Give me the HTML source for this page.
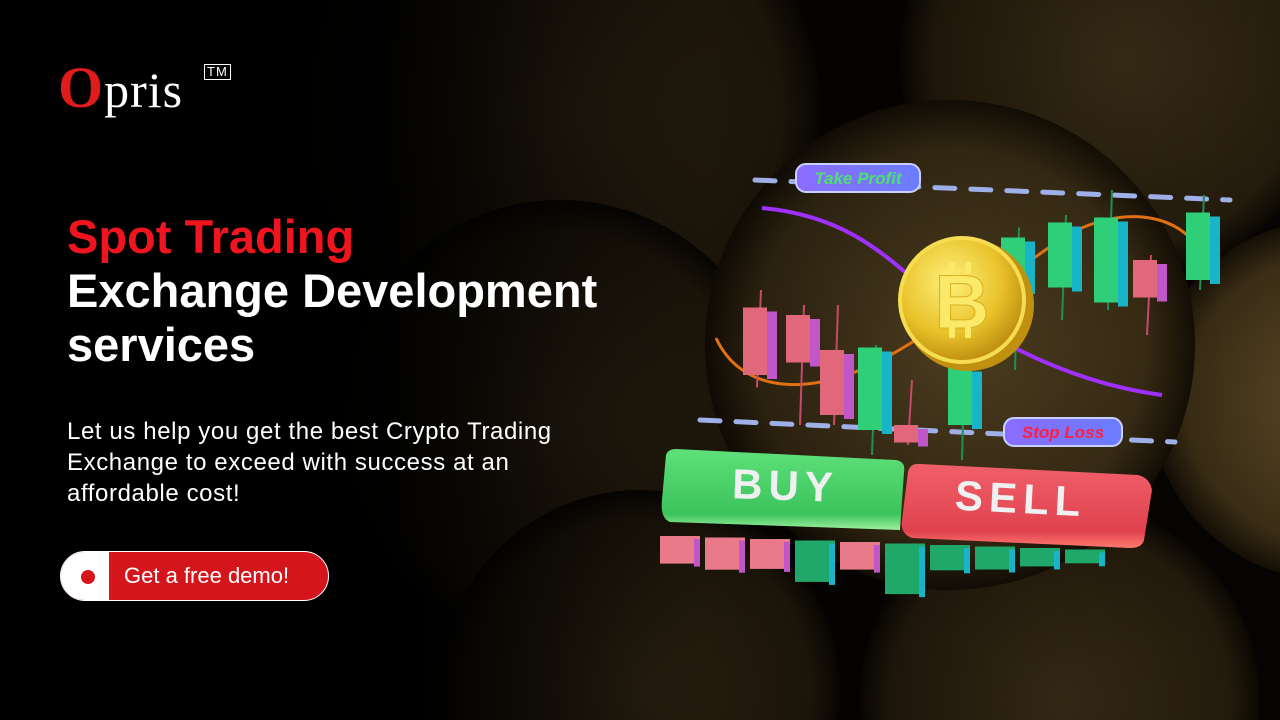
<!DOCTYPE html>
<html><head><meta charset="utf-8">
<style>
html,body{margin:0;padding:0;width:1280px;height:720px;overflow:hidden;background:#000;font-family:"Liberation Sans",sans-serif}
#bg{position:absolute;left:0;top:0}
.logo{position:absolute;left:58px;top:58px;color:#fff;font-family:"Liberation Serif",serif;font-size:50px;letter-spacing:1px;line-height:60px}
.logo .o{color:#e01b1b;font-size:58px;font-weight:bold}
.logo sup{font-family:"Liberation Sans",sans-serif;font-size:13px;border:1.5px solid #fff;padding:0 2px;position:absolute;left:146px;top:6px;line-height:14px}
h1{position:absolute;left:67px;top:210px;margin:0;font-size:47px;line-height:54px;font-weight:bold;color:#fff}
h1 .red{color:#f0141e}
p.desc{position:absolute;left:67px;top:416px;margin:0;width:510px;font-size:24px;letter-spacing:0.6px;line-height:31px;color:#fff}
.btn{position:absolute;left:60px;top:551px;width:269px;height:50px;border-radius:25px;background:#d4161c;overflow:hidden;border:1px solid #fff;box-sizing:border-box}
.btn .w{position:absolute;left:0;top:0;width:48px;height:50px;background:#fff}
.btn .dot{position:absolute;left:20px;top:18px;width:14px;height:14px;border-radius:50%;background:#d4161c}
.btn span{position:absolute;left:63px;top:11px;color:#fff;font-size:22px}
</style></head><body>
<svg id="bg" width="1280" height="720" viewBox="0 0 1280 720">
<defs>
<radialGradient id="coinbg" cx="0.5" cy="0.5" r="0.5"><stop offset="0" stop-color="#5a4826"/><stop offset="0.8" stop-color="#3a2d15"/><stop offset="1" stop-color="#140e05"/></radialGradient>
<radialGradient id="coinbg2" cx="0.5" cy="0.5" r="0.5"><stop offset="0" stop-color="#3a2d17"/><stop offset="0.85" stop-color="#241b0c"/><stop offset="1" stop-color="#0a0703"/></radialGradient>
<linearGradient id="fade" x1="0" x2="1"><stop offset="0" stop-color="#000" stop-opacity="1"/><stop offset="0.3" stop-color="#000" stop-opacity="0.95"/><stop offset="0.55" stop-color="#000" stop-opacity="0.3"/><stop offset="1" stop-color="#000" stop-opacity="0"/></linearGradient>
<radialGradient id="gold" cx="0.4" cy="0.35" r="0.7"><stop offset="0" stop-color="#fff07a"/><stop offset="0.6" stop-color="#e8c22a"/><stop offset="1" stop-color="#b8860b"/></radialGradient>
<linearGradient id="buyg" x1="0" y1="0" x2="0" y2="1"><stop offset="0" stop-color="#5fe07a"/><stop offset="0.8" stop-color="#3cc35c"/><stop offset="1" stop-color="#9ff0a0"/></linearGradient>
<linearGradient id="sellg" x1="0" y1="0" x2="0" y2="1"><stop offset="0" stop-color="#f0606a"/><stop offset="0.8" stop-color="#e0424e"/><stop offset="1" stop-color="#ff7a70"/></linearGradient>
<linearGradient id="tag" x1="0" x2="1"><stop offset="0" stop-color="#8a6cff"/><stop offset="1" stop-color="#6a7cff"/></linearGradient>
</defs>
<rect width="1280" height="720" fill="#050403"/>
<circle cx="560" cy="110" r="260" fill="url(#coinbg2)"/>
<circle cx="1120" cy="60" r="220" fill="url(#coinbg2)"/>
<circle cx="560" cy="420" r="220" fill="url(#coinbg2)"/>
<circle cx="640" cy="690" r="200" fill="url(#coinbg2)"/>
<circle cx="1060" cy="700" r="200" fill="url(#coinbg2)"/>
<circle cx="1330" cy="400" r="180" fill="url(#coinbg)"/>
<circle cx="950" cy="345" r="245" fill="url(#coinbg)"/>
<rect width="1280" height="720" fill="url(#fade)"/>
<g id="chart"></g>
</svg>

<div class="logo"><span class="o">O</span>pris<sup>TM</sup></div>
<h1><span class="red">Spot Trading</span><br>Exchange Development<br>services</h1>
<p class="desc">Let us help you get the best Crypto Trading Exchange to exceed with success at an affordable cost!</p>
<div class="btn"><div class="w"></div><div class="dot"></div><span>Get a free demo!</span></div>

<script>
const candleX = [757, 800, 834, 872, 908, 962, 1015, 1062, 1108, 1147, 1200];
const opens  = [65, 62, 48, 16, 18, 18, 72, 73, 67, 84, 76];
const closes = [38, 43, 22, 49, 11, 41, 93, 99, 101, 69, 103];
const highs  = [72, 66, 66, 50, 36, 68, 97, 102, 112, 86, 110];
const lows   = [33, 18, 18, 6, 10, 4, 40, 60, 64, 54, 72];
const volumes = [12, 14, 13, 18, 12, 22, 11, 10, 8, 6];
const yScale = v => 470 - v * 2.5;
const NS = 'http://www.w3.org/2000/svg';
const g = document.getElementById('chart');
function mk(tag, attrs){const e=document.createElementNS(NS,tag);for(const k in attrs)e.setAttribute(k,attrs[k]);g.appendChild(e);return e;}

const dl1 = mk('line',{x1:755,y1:180,x2:1230,y2:200,stroke:'#9fb0e8','stroke-width':5,'stroke-dasharray':'20 16','stroke-linecap':'round'});


const dl2 = mk('line',{x1:700,y1:420,x2:1175,y2:442,stroke:'#9fb0e8','stroke-width':5,'stroke-dasharray':'20 16','stroke-linecap':'round'});


const c1 = mk('path',{d:'M762 208 C840 215 880 250 920 285 S1050 380 1162 395',stroke:'#a030ff','stroke-width':4,fill:'none'});


const c2 = mk('path',{d:'M716 338 C740 390 800 395 860 370 S1000 280 1060 240 S1200 210 1210 280',stroke:'#e07010','stroke-width':3,fill:'none'});



for (let i = 0; i < candleX.length; i++) {
  const x = candleX[i], up = closes[i] > opens[i];
  const top = yScale(Math.max(opens[i], closes[i])), bot = yScale(Math.min(opens[i], closes[i]));
  const w = mk('line',{x1:x+4,y1:yScale(highs[i]),x2:x,y2:yScale(lows[i]),stroke:up?'#1f8f55':'#c84a6a','stroke-width':2});
  
  
  const side = mk('rect',{x:x+10,y:top+4,width:10,height:bot-top,fill:up?'#18b4c8':'#c056c8'});
  
  
  const b = mk('rect',{x:x-14,y:top,width:24,height:bot-top,fill:up?'#2fcf7a':'#e0687a'});
  
  
}

const coinEdge = mk('circle',{cx:968,cy:305,r:66,fill:'#c09010'});


const coin = mk('circle',{cx:962,cy:300,r:62,fill:'url(#gold)',stroke:'#f6dc50','stroke-width':4});


const bt = mk('text',{x:962,y:328,'text-anchor':'middle','font-size':76,'font-weight':'bold','font-family':'Liberation Sans, sans-serif',fill:'#fbe96a',stroke:'#d8b020','stroke-width':1});
bt.textContent = 'B';


const bl = mk('path',{d:'M952 262 v12 M968 262 v12 M952 326 v12 M968 326 v12',stroke:'#fbe96a','stroke-width':6});



function tag(x,y,w,text,color,name){
  const r = mk('rect',{x:x,y:y,width:w,height:28,rx:10,fill:'url(#tag)',stroke:'#c8d0ff','stroke-width':2});
  
  
  const t = mk('text',{x:x+w/2,y:y+20,'text-anchor':'middle','font-size':17,'font-style':'italic','font-weight':'bold','font-family':'Liberation Sans, sans-serif',fill:color});
  t.textContent = text;
  
  
}
tag(796,164,124,'Take Profit','#4ee06a','take-profit-tag');
tag(1004,418,118,'Stop Loss','#ff2040','stop-loss-tag');

const buyS = mk('path',{d:'M662 500 L666 455 Q668 449 676 449 L896 460 Q906 462 904 472 L900 530 L670 522 Q660 518 662 500Z',fill:'url(#buyg)'});


const buyT = mk('text',{x:785,y:500,'text-anchor':'middle','font-size':42,'font-weight':'bold','font-family':'Liberation Sans, sans-serif',fill:'#f0f0f0','letter-spacing':6,transform:'rotate(2 785 500)'});
buyT.textContent='BUY';


const sellS = mk('path',{d:'M902 520 L908 472 Q910 463 920 464 L1138 475 Q1150 478 1152 490 L1144 540 Q1142 548 1130 548 L912 538 Q900 534 902 520Z',fill:'url(#sellg)'});


const sellT = mk('text',{x:1020,y:513,'text-anchor':'middle','font-size':42,'font-weight':'bold','font-family':'Liberation Sans, sans-serif',fill:'#f0f0f0','letter-spacing':6,transform:'rotate(3 1020 513)'});
sellT.textContent='SELL';



const volColors = ['#e87a8a','#e87a8a','#e87a8a','#1fa86a','#e87a8a','#1fa86a','#1fa86a','#1fa86a','#1fa86a','#1fa86a'];
for (let i = 0; i < volumes.length; i++) {
  const x = 660 + i * 45, y0 = 536 + i * 1.5, h = volumes[i] * 2.3;
  const v = mk('rect',{x:x,y:y0,width:40,height:h,fill:volColors[i]});
  
  
  const vs = mk('rect',{x:x+34,y:y0+3,width:6,height:h,fill:volColors[i]==='#1fa86a'?'#18b4c8':'#c056c8'});
  
  
}
</script>
</body></html>
